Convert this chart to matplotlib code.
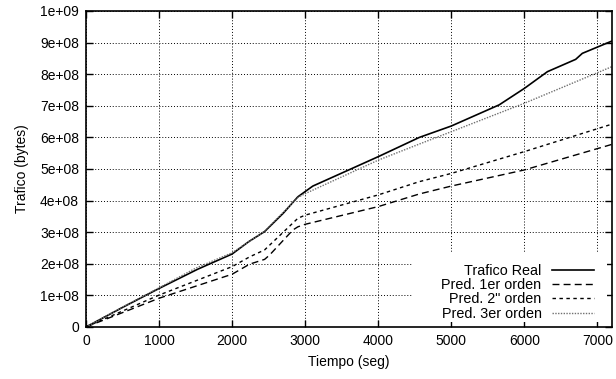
import math
import matplotlib
matplotlib.use("Agg")
import matplotlib.pyplot as plt
from matplotlib.ticker import MultipleLocator, FuncFormatter
from matplotlib.patches import Rectangle

# ---- data (bytes in units of 1e8) ----
t_real = [0, 500, 1000, 1530, 2000, 2227, 2445, 2700, 2900, 3105, 3500, 4000,
          4563, 5000, 5656, 6000, 6316, 6703, 6794, 7200]
v_real = [0, 0.62, 1.22, 1.83, 2.31, 2.70, 3.02, 3.60, 4.12, 4.46, 4.87, 5.39,
          6.00, 6.36, 7.03, 7.55, 8.08, 8.47, 8.66, 9.05]

t_p1 = [0, 1000, 2000, 2240, 2445, 2514, 2832, 2900, 3000, 4000, 4563, 5000, 6000, 7200]
v_p1 = [0, 0.91, 1.67, 1.99, 2.14, 2.28, 3.07, 3.17, 3.25, 3.81, 4.21, 4.46, 4.97, 5.78]

t_p2 = [0, 1000, 2000, 2240, 2445, 2900, 3000, 4000, 4563, 5000, 6000, 7200]
v_p2 = [0, 1.01, 1.91, 2.22, 2.44, 3.44, 3.54, 4.18, 4.60, 4.86, 5.55, 6.42]

t_p3 = [0, 500, 1000, 1500, 2000, 2445, 2900, 3000, 4000, 4563, 5000, 6000, 7200]
v_p3 = [0, 0.63, 1.24, 1.86, 2.35, 3.03, 4.10, 4.22, 5.28, 5.79, 6.18, 7.08, 8.24]

labels = ["Trafico Real", "Pred. 1er orden", "Pred. 2\" orden", "Pred. 3er orden"]
scale = 1e8

plt.rcParams['font.family'] = ['Liberation Sans', 'DejaVu Sans']
plt.rcParams['font.size'] = 10

W, H = 616, 379
fig = plt.figure(figsize=(W/100, H/100), dpi=100)
L, R, T, B = 86, 612, 11, 327
ax = fig.add_axes([L/W, 1 - B/H, (R-L)/W, (B-T)/H])

ax.plot(t_real, [v*scale for v in v_real], color='black', lw=1.2, label=labels[0])
ax.plot(t_p1, [v*scale for v in v_p1], color='black', lw=1.0, dashes=(5, 3), label=labels[1])
ax.plot(t_p2, [v*scale for v in v_p2], color='black', lw=1.0, dashes=(2.5, 2.5), label=labels[2])
ax.plot(t_p3, [v*scale for v in v_p3], color='#707070', lw=1.0, dashes=(1, 1), label=labels[3])

ax.set_xlim(0, 7200)
ax.set_ylim(0, 1e9)
ax.xaxis.set_major_locator(MultipleLocator(1000))
ax.yaxis.set_major_locator(MultipleLocator(1e8))

def yfmt(v, pos):
    if v == 0:
        return "0"
    e = int(math.floor(math.log10(abs(v)) + 1e-9))
    m = v / 10**e
    return f"{m:.0f}e+{e:02d}"
ax.yaxis.set_major_formatter(FuncFormatter(yfmt))

ax.tick_params(direction='in', length=5, width=1, top=True, right=True, pad=5, labelsize=10)
ax.grid(True, color='black', lw=0.7, ls=(0, (1, 2)))
for s in ax.spines.values():
    s.set_linewidth(1.2)

ax.set_xlabel("Tiempo (seg)", labelpad=5)
ax.set_ylabel("Trafico (bytes)", labelpad=8)

# white key background (gnuplot-style opaque key), leaving spines and ticks visible
def ax_frac(px, py):
    return ((px - L) / (R - L), (B - py) / (B - T))
x0, y0 = ax_frac(412, 321.5)
x1, y1 = ax_frac(606.5, 253)
ax.add_patch(Rectangle((x0, y0), x1 - x0, y1 - y0, transform=ax.transAxes,
                       facecolor='white', edgecolor='none', zorder=2.6))

ax.legend(loc='lower right', bbox_to_anchor=ax_frac(600, 326.5), markerfirst=False,
          frameon=False, handlelength=2.9, handletextpad=0.75,
          labelspacing=0.02, borderpad=0.4, borderaxespad=0, fontsize=10.4)

fig.savefig("out.png", dpi=100)
